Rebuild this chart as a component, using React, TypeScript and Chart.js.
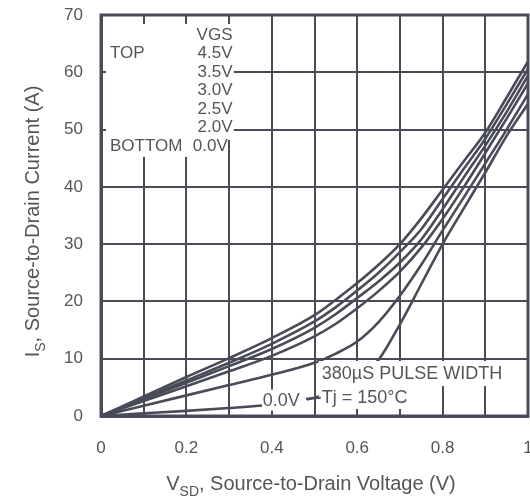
import React, { useEffect, useRef } from 'react';
import { Chart, registerables } from 'chart.js';

Chart.register(...registerables);

// Source-to-drain voltage (V)
const voltages = [0, 0.1, 0.2, 0.3, 0.4, 0.5, 0.55, 0.6, 0.65, 0.7, 0.75, 0.8, 0.85, 0.9, 0.95, 1.0];
// Source-to-drain current (A) for each VGS
const vgs45 = [0, 3.4, 6.8, 10.1, 13.6, 17.6, 20.3, 23.2, 26.4, 30, 34.5, 39.5, 44.5, 49.5, 55.6, 61.9];
const vgs35 = [0, 3.1, 6.2, 9.3, 12.6, 16.5, 19, 21.9, 25, 28.6, 32.6, 37.9, 43.2, 48.4, 54.4, 60.6];
const vgs30 = [0, 2.9, 5.8, 8.7, 11.7, 15.4, 17.8, 20.6, 23.5, 26.8, 30.8, 36.1, 41.7, 47.2, 53.1, 59.4];
const vgs25 = [0, 2.6, 5.2, 7.8, 10.5, 13.9, 16.1, 18.8, 21.8, 25.2, 29.4, 34.4, 40, 45.9, 51.9, 58.1];
const vgs20 = [0, 1.8, 3.6, 5.4, 7.2, 9.3, 10.9, 13.0, 16.4, 21, 26.4, 32.4, 38.2, 44.1, 50, 56.2];
const vgs00 = [0, 0.45, 0.9, 1.4, 2.0, 3.2, 4.4, 6.3, 9.8, 16, 23, 30, 36.3, 42.5, 48.9, 54.5];

const seriesNames = ['4.5V', '3.5V', '3.0V', '2.5V', '2.0V', '0.0V'];
const seriesValues = [vgs45, vgs35, vgs30, vgs25, vgs20, vgs00];

const xMin = 0;
const xMax = 1;
const xStep = 0.1;
const yMin = 0;
const yMax = 70;
const yStep = 10;

const legendLines = ['VGS', '4.5V', '3.5V', '3.0V', '2.5V', '2.0V'];
const legendTop = 'TOP';
const legendBottom = 'BOTTOM';
const legendBottomValue = '0.0V';
const noteLine1 = '380\u00B5S PULSE WIDTH';
const noteLine2 = 'Tj = 150\u00B0C';
const zeroLabel = '0.0V';

const INK = '#4a4b58';
const TEXT = '#555555';
const FONT = 'Arial, "Liberation Sans", Helvetica, sans-serif';

const overlayPlugin = {
  id: 'overlay',
  afterDatasetsDraw(chart: any) {
    const { ctx, chartArea, scales } = chart;
    const xs = scales.x;
    const ys = scales.y;
    const px = (v: number) => xs.getPixelForValue(v);
    const py = (v: number) => ys.getPixelForValue(v);
    ctx.save();
    ctx.fillStyle = '#ffffff';
    // legend background
    const lx = chartArea.left + 5;
    ctx.fillRect(lx, chartArea.top + 9, px(0.311) - lx, py(48.2) - chartArea.top - 9);
    ctx.fillRect(lx, py(48.2) - 1, px(0.297) - lx, 18);
    // note background
    const nx = px(0.51);
    ctx.fillRect(nx, py(9.6), chartArea.right - 3 - nx, 25);
    ctx.fillRect(nx, py(9.6) + 25, px(0.745) - nx, 23);
    // zero label background
    ctx.fillRect(px(0.377), py(4.6), px(0.482) - px(0.377), 21);

    ctx.fillStyle = TEXT;
    ctx.textBaseline = 'middle';
    ctx.font = `17px ${FONT}`;
    ctx.textAlign = 'right';
    const rx = px(0.308);
    const ly0 = chartArea.top + 20;
    legendLines.forEach((t, i) => ctx.fillText(t, rx, ly0 + i * 18.5));
    ctx.fillText(legendBottomValue, px(0.297), ly0 + 6 * 18.5);
    ctx.textAlign = 'left';
    ctx.fillText(legendTop, chartArea.left + 9, ly0 + 18.5);
    ctx.fillText(legendBottom, chartArea.left + 9, ly0 + 6 * 18.5);

    ctx.font = `18px ${FONT}`;
    ctx.fillText(noteLine1, nx + 3, py(9.6) + 13);
    ctx.fillText(noteLine2, nx + 3, py(9.6) + 37);
    ctx.fillText(zeroLabel, px(0.379), py(4.6) + 11);

    // leader line from 0.0V label
    ctx.strokeStyle = INK;
    ctx.lineWidth = 2;
    ctx.beginPath();
    ctx.moveTo(px(0.48), py(4.6) + 9);
    ctx.lineTo(nx + 2, py(4.6) + 8);
    ctx.stroke();

    // plot frame
    ctx.lineWidth = 3;
    ctx.strokeRect(chartArea.left, chartArea.top, chartArea.right - chartArea.left, chartArea.bottom - chartArea.top);
    ctx.restore();
  },
  afterDraw(chart: any) {
    const { ctx, chartArea } = chart;
    ctx.save();
    ctx.fillStyle = TEXT;
    ctx.textBaseline = 'alphabetic';
    ctx.textAlign = 'left';
    const big = `20px ${FONT}`;
    const small = `14px ${FONT}`;
    // X title
    const xParts: [string, string, number][] = [
      ['V', big, 0],
      ['SD', small, 6],
      [', Source-to-Drain Voltage (V)', big, 0],
    ];
    let w = 0;
    xParts.forEach(([t, f]) => { ctx.font = f; w += ctx.measureText(t).width; });
    let x = 311 - w / 2;
    const by = 490;
    xParts.forEach(([t, f, dy]) => { ctx.font = f; ctx.fillText(t, x, by + dy); x += ctx.measureText(t).width; });
    // Y title
    const yParts: [string, string, number][] = [
      ['I', big, 0],
      ['S', small, 6],
      [', Source-to-Drain Current (A)', big, 0],
    ];
    w = 0;
    yParts.forEach(([t, f]) => { ctx.font = f; w += ctx.measureText(t).width; });
    ctx.translate(39, (chartArea.top + chartArea.bottom) / 2 + 6);
    ctx.rotate(-Math.PI / 2);
    let yx = -w / 2;
    yParts.forEach(([t, f, dy]) => { ctx.font = f; ctx.fillText(t, yx, dy); yx += ctx.measureText(t).width; });
    ctx.restore();
  },
};

export default function App() {
  const ref = useRef<HTMLCanvasElement | null>(null);
  useEffect(() => {
    if (!ref.current) return;
    const chart = new Chart(ref.current, {
      type: 'scatter',
      data: {
        datasets: seriesNames.map((name, i) => ({
          label: name,
          data: voltages.map((v, j) => ({ x: v, y: seriesValues[i][j] })),
          showLine: true,
          borderColor: INK,
          borderWidth: 2.6,
          pointRadius: 0,
          cubicInterpolationMode: 'monotone' as const,
          fill: false,
        })),
      },
      options: {
        responsive: false,
        animation: false,
        events: [],
        layout: { padding: { top: 15, right: 2, bottom: 0, left: 0 } },
        plugins: { legend: { display: false }, tooltip: { enabled: false }, title: { display: false } },
        scales: {
          x: {
            type: 'linear',
            min: xMin,
            max: xMax,
            grid: { color: INK, lineWidth: 2, drawTicks: false },
            border: { color: INK, width: 3 },
            ticks: {
              stepSize: xStep,
              padding: 22,
              color: TEXT,
              font: { size: 17, family: FONT },
              maxRotation: 0,
              autoSkip: false,
              callback: (value: any, index: number) => (index % 2 === 0 ? String(Math.round(Number(value) * 10) / 10) : ''),
            },
            afterFit: (s: any) => { s.height = 84; s.paddingLeft = 0; s.paddingRight = 0; },
          },
          y: {
            type: 'linear',
            min: yMin,
            max: yMax,
            grid: { color: INK, lineWidth: 2, drawTicks: false },
            border: { color: INK, width: 3 },
            ticks: {
              stepSize: yStep,
              padding: 18,
              color: TEXT,
              font: { size: 17, family: FONT },
            },
            afterFit: (s: any) => { s.width = 101; s.paddingTop = 0; s.paddingBottom = 0; },
          },
        },
      },
      plugins: [overlayPlugin],
    });
    return () => chart.destroy();
  }, []);
  return (
    <div style={{ position: 'fixed', left: 0, top: 0, width: 530, height: 500, background: '#fff' }}>
      <canvas ref={ref} width={530} height={500} style={{ width: 530, height: 500, display: 'block' }} />
    </div>
  );
}
